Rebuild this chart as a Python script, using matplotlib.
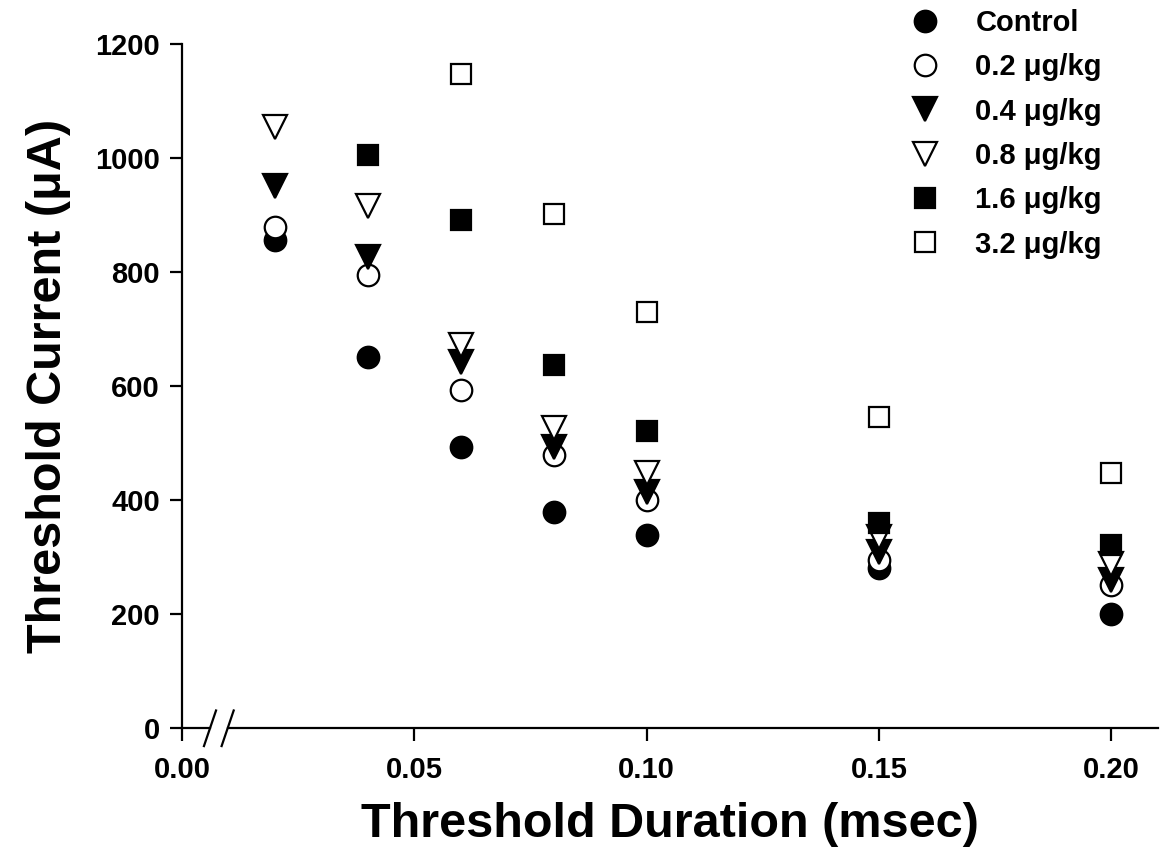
import numpy as np
import matplotlib
matplotlib.use("Agg")
import matplotlib.pyplot as plt
import matplotlib.transforms as mtransforms
from matplotlib.lines import Line2D

plt.rcParams['font.family'] = ['Liberation Sans', 'DejaVu Sans']
plt.rcParams['font.weight'] = 'bold'

# threshold duration (msec)
duration = [0.02, 0.04, 0.06, 0.08, 0.10, 0.15, 0.20]

# threshold current (uA) per dose group
control = [856, 652, 493, 379, 339, 281, 201]
dose_02 = [879, 795, 593, 479, 400, 296, 251]
dose_04 = [952, 827, 642, 493, 414, 309, 260]
dose_08 = [1054, 916, 672, 526, 447, 335, 289]
dose_16 = [np.nan, 1005, 891, 637, 521, 360, 321]
dose_32 = [np.nan, np.nan, 1147, 902, 731, 546, 447]

labels = ['Control', '0.2 μg/kg', '0.4 μg/kg', '0.8 μg/kg', '1.6 μg/kg', '3.2 μg/kg']
x_ticks = [0.00, 0.05, 0.10, 0.15, 0.20]
y_ticks = [0, 200, 400, 600, 800, 1000, 1200]

series = [control, dose_02, dose_04, dose_08, dose_16, dose_32]
# marker, face colour, size
styles = [('o', 'black', 15.5),
          ('o', 'white', 15.5),
          ('v', 'black', 17),
          ('v', 'white', 17),
          ('s', 'black', 14.5),
          ('s', 'white', 14.5)]

fig = plt.figure(figsize=(11.6, 8.67), dpi=100)
ax = fig.add_axes([0.157, 0.160, 0.841, 0.789])

handles = []
for i, (vals, (mk, fc, ms)) in enumerate(zip(series, styles)):
    ax.plot(duration, vals, linestyle='none', marker=mk, markersize=ms,
            markerfacecolor=fc, markeredgecolor='black', markeredgewidth=1.6,
            zorder=3 + i, clip_on=False)
    handles.append(Line2D([], [], linestyle='none', marker=mk, markersize=ms,
                          markerfacecolor=fc, markeredgecolor='black',
                          markeredgewidth=1.6))

ax.set_xlim(0, 0.21)
ax.set_ylim(0, 1200)
ax.set_xticks(x_ticks)
ax.set_xticklabels(['%.2f' % t for t in x_ticks])
ax.set_yticks(y_ticks)

for s in ['top', 'right', 'bottom']:
    ax.spines[s].set_visible(False)
ax.spines['left'].set_linewidth(1.6)
ax.tick_params(axis='both', direction='out', length=9, width=1.6, labelsize=21)
ax.tick_params(axis='x', pad=11)
ax.tick_params(axis='y', pad=7)

# bottom axis drawn in two pieces with a break
trans = mtransforms.blended_transform_factory(ax.transData, ax.transAxes)
ax.plot([0, 0.0060], [0, 0], color='black', lw=1.6, transform=trans, clip_on=False)
ax.plot([0.0098, 0.21], [0, 0], color='black', lw=1.6, transform=trans, clip_on=False)
for bx in [0.0060, 0.0098]:
    ax.plot([bx - 0.0013, bx + 0.0013], [-0.026, 0.026], color='black', lw=1.6,
            transform=trans, clip_on=False)

ax.set_xlabel('Threshold Duration (msec)', fontsize=35, fontweight='bold', labelpad=13)
ax.set_ylabel('Threshold Current (μA)', fontsize=35, fontweight='bold', labelpad=17)

leg = ax.legend(handles, labels, loc='upper left',
                bbox_to_anchor=(896 / 1160, 1 - 9 / 867),
                bbox_transform=fig.transFigure, frameon=False,
                fontsize=21, handlelength=2.0, handletextpad=0.72,
                labelspacing=0.56, borderpad=0, borderaxespad=0, numpoints=1)
for t in leg.get_texts():
    t.set_fontweight('bold')

fig.savefig('out.png', dpi=100)
